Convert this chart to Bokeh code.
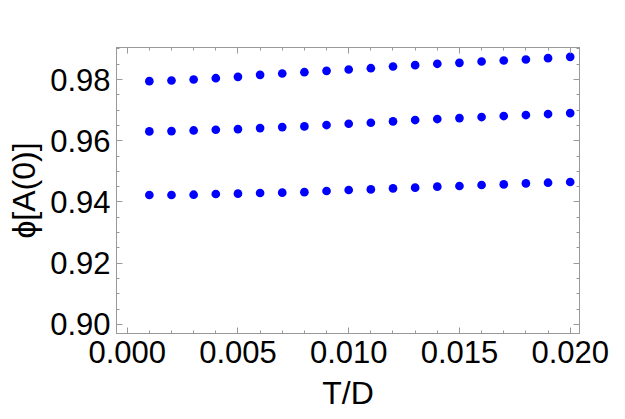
from bokeh.plotting import figure
from bokeh.models import (LinearAxis, SingleIntervalTicker, NumeralTickFormatter,
                          CustomJSTickFormatter, Range1d, ColumnDataSource)
from bokeh.embed import file_html
from bokeh.resources import INLINE

# data
td = [0.001, 0.002, 0.003, 0.004, 0.005, 0.006, 0.007, 0.008, 0.009, 0.010,
      0.011, 0.012, 0.013, 0.014, 0.015, 0.016, 0.017, 0.018, 0.019, 0.020]
phi_top = [0.97945, 0.97967, 0.98000, 0.98042, 0.98088, 0.98153, 0.98196, 0.98238,
           0.98284, 0.98327, 0.98369, 0.98424, 0.98467, 0.98513, 0.98545, 0.98588,
           0.98620, 0.98653, 0.98696, 0.98741]
phi_mid = [0.96304, 0.96316, 0.96336, 0.96359, 0.96382, 0.96414, 0.96447, 0.96467,
           0.96513, 0.96555, 0.96588, 0.96631, 0.96676, 0.96709, 0.96741, 0.96774,
           0.96807, 0.96839, 0.96872, 0.96904]
phi_bot = [0.94229, 0.94229, 0.94238, 0.94261, 0.94271, 0.94294, 0.94304, 0.94320,
           0.94359, 0.94392, 0.94411, 0.94444, 0.94467, 0.94500, 0.94522, 0.94555,
           0.94575, 0.94607, 0.94630, 0.94653]

x_label = "T/D"
y_label = "ϕ[A(0)]"

FONT = "Liberation Sans"
FRAME = "#999999"

p = figure(width=625, height=419, output_backend="svg", toolbar_location=None,
           x_range=Range1d(-0.000483, 0.02042), y_range=Range1d(0.89706, 0.99045),
           x_axis_location=None, y_axis_location=None,
           min_border_left=116, min_border_right=46, min_border_top=47, min_border_bottom=86)
p.grid.visible = False
p.outline_line_color = FRAME
p.outline_line_width = 1
p.background_fill_color = "white"
p.border_fill_color = "white"

def style(ax, major, nminor, fmt, show):
    ax.ticker = SingleIntervalTicker(interval=major, num_minor_ticks=nminor)
    ax.axis_line_color = FRAME
    ax.major_tick_line_color = FRAME
    ax.minor_tick_line_color = FRAME
    ax.major_tick_in = 6
    ax.major_tick_out = 0
    ax.minor_tick_in = 3
    ax.minor_tick_out = 0
    if show:
        ax.formatter = NumeralTickFormatter(format=fmt)
        ax.major_label_text_font = FONT
        ax.major_label_text_font_size = "31px"
        ax.major_label_text_color = "black"
        ax.major_label_standoff = 7
        ax.axis_label_text_font = FONT
        ax.axis_label_text_font_size = "32px"
        ax.axis_label_text_font_style = "normal"
        ax.axis_label_text_color = "black"
    else:
        ax.formatter = CustomJSTickFormatter(code="return ''")
        ax.major_label_text_font_size = "1px"
        ax.major_label_standoff = 0

xb = LinearAxis(axis_label=x_label)
style(xb, 0.005, 5, "0.000", True)
xb.axis_label_standoff = 9
p.add_layout(xb, "below")

yl = LinearAxis(axis_label=y_label)
style(yl, 0.02, 4, "0.00", True)
yl.major_label_standoff = 6
yl.axis_label_standoff = 5
p.add_layout(yl, "left")

xt = LinearAxis()
style(xt, 0.005, 5, "", False)
p.add_layout(xt, "above")
yr = LinearAxis()
style(yr, 0.02, 4, "", False)
p.add_layout(yr, "right")

for ys in (phi_top, phi_mid, phi_bot):
    src = ColumnDataSource(dict(x=td, y=ys))
    p.scatter("x", "y", source=src, size=8.7, color="#0000ff", line_color=None)

open("out.html", "w").write(file_html(p, INLINE))
